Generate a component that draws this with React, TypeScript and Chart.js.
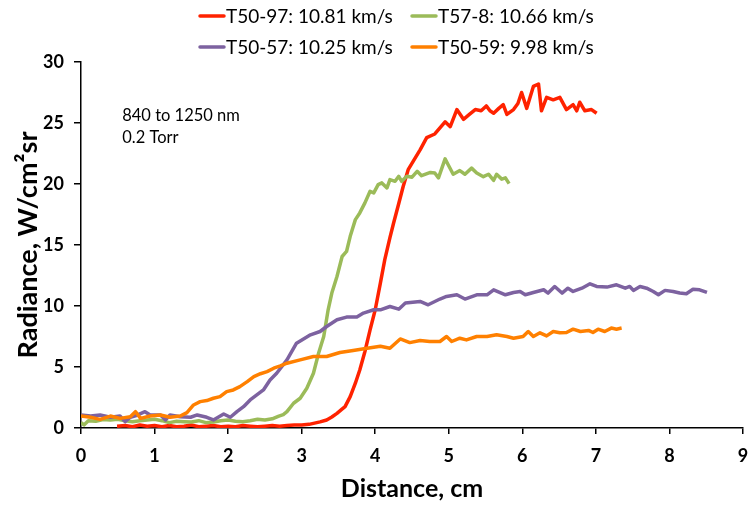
import React, { useEffect, useRef } from "react";
import { Chart, registerables } from "chart.js";

Chart.register(...registerables);

const seriesNames = [
  "T50-97: 10.81 km/s",
  "T57-8: 10.66 km/s",
  "T50-57: 10.25 km/s",
  "T50-59: 9.98 km/s",
];
const seriesColors = ["#FF2200", "#9BBB59", "#7D62A0", "#FF8000"];

const xTickValues = [0, 1, 2, 3, 4, 5, 6, 7, 8, 9];
const yTickValues = [0, 5, 10, 15, 20, 25, 30];
const noteLines = ["840 to 1250 nm", "0.2 Torr"];
const xTitle = "Distance, cm";
const yTitle = "Radiance, W/cm\u00B2sr";

const redX = [0.49, 0.6, 0.7, 0.8, 0.9, 1.0, 1.1, 1.2, 1.3, 1.4, 1.5, 1.6, 1.7, 1.8, 1.9, 2.0, 2.1, 2.2, 2.3, 2.4, 2.5, 2.6, 2.7, 2.8, 2.9, 3.0, 3.1, 3.16, 3.25, 3.34, 3.41, 3.48, 3.54, 3.59, 3.66, 3.73, 3.79, 3.86, 3.93, 4.0, 4.07, 4.13, 4.2, 4.25, 4.32, 4.38, 4.45, 4.53, 4.61, 4.7, 4.81, 4.88, 4.95, 5.02, 5.11, 5.2, 5.28, 5.36, 5.44, 5.51, 5.56, 5.61, 5.68, 5.74, 5.79, 5.88, 5.94, 5.99, 6.06, 6.15, 6.22, 6.26, 6.33, 6.42, 6.51, 6.6, 6.69, 6.74, 6.78, 6.85, 6.94, 7.01];
const redY = [0.15, 0.2, 0.1, 0.25, 0.15, 0.2, 0.1, 0.2, 0.1, 0.15, 0.25, 0.1, 0.15, 0.2, 0.1, 0.15, 0.1, 0.2, 0.15, 0.1, 0.15, 0.2, 0.15, 0.2, 0.25, 0.25, 0.3, 0.38, 0.5, 0.66, 0.9, 1.2, 1.5, 1.75, 2.57, 3.67, 4.76, 6.27, 8.05, 9.69, 11.88, 13.8, 15.6, 16.8, 18.4, 19.8, 21.2, 22.0, 22.8, 23.8, 24.1, 24.6, 25.1, 24.7, 26.1, 25.3, 25.7, 26.1, 26.0, 26.4, 26.0, 25.8, 26.2, 26.5, 25.7, 26.1, 26.6, 27.5, 26.2, 28.0, 28.2, 26.0, 27.1, 26.9, 27.1, 26.1, 26.5, 26.0, 26.7, 26.0, 26.1, 25.8];

const greenX = [0, 0.04, 0.1, 0.2, 0.3, 0.4, 0.5, 0.6, 0.7, 0.8, 0.9, 1.0, 1.1, 1.2, 1.3, 1.4, 1.5, 1.6, 1.7, 1.8, 1.9, 2.0, 2.1, 2.2, 2.3, 2.4, 2.5, 2.6, 2.69, 2.75, 2.8, 2.89, 2.98, 3.07, 3.16, 3.23, 3.3, 3.36, 3.41, 3.48, 3.55, 3.61, 3.66, 3.7, 3.73, 3.79, 3.86, 3.93, 3.98, 4.04, 4.09, 4.16, 4.2, 4.27, 4.32, 4.36, 4.43, 4.5, 4.57, 4.63, 4.75, 4.81, 4.86, 4.95, 4.99, 5.06, 5.15, 5.22, 5.31, 5.38, 5.47, 5.54, 5.61, 5.65, 5.72, 5.77, 5.82];
const greenY = [0.44, 0.25, 0.6, 0.55, 0.7, 0.66, 0.71, 0.6, 0.52, 0.6, 0.66, 0.71, 0.6, 0.44, 0.55, 0.52, 0.5, 0.6, 0.44, 0.5, 0.6, 0.66, 0.55, 0.52, 0.6, 0.71, 0.65, 0.75, 0.98, 1.1, 1.34, 2.03, 2.44, 3.26, 4.49, 6.13, 7.5, 9.69, 11.06, 12.42, 14.06, 14.47, 15.71, 16.5, 17.08, 17.63, 18.45, 19.4, 19.27, 19.95, 20.09, 19.68, 20.36, 20.22, 20.63, 20.22, 20.63, 20.56, 21.04, 20.68, 20.95, 20.9, 20.5, 22.06, 21.6, 20.8, 21.1, 20.8, 21.3, 20.9, 20.6, 20.8, 20.3, 20.8, 20.4, 20.5, 20.03];

const purpleX = [0, 0.13, 0.26, 0.4, 0.53, 0.6, 0.67, 0.74, 0.87, 0.94, 1.08, 1.15, 1.21, 1.35, 1.49, 1.58, 1.71, 1.8, 1.94, 2.03, 2.12, 2.21, 2.3, 2.39, 2.48, 2.57, 2.66, 2.8, 2.93, 3.12, 3.25, 3.34, 3.48, 3.61, 3.75, 3.84, 3.98, 4.07, 4.2, 4.32, 4.41, 4.61, 4.72, 4.88, 4.97, 5.11, 5.22, 5.38, 5.52, 5.61, 5.77, 5.88, 5.97, 6.04, 6.15, 6.29, 6.35, 6.44, 6.54, 6.62, 6.69, 6.81, 6.92, 7.01, 7.15, 7.28, 7.4, 7.46, 7.51, 7.6, 7.69, 7.78, 7.85, 7.94, 8.05, 8.14, 8.23, 8.32, 8.41, 8.51];
const purpleY = [1.07, 0.98, 1.07, 0.88, 0.98, 0.52, 0.88, 1.0, 1.34, 1.07, 1.07, 0.66, 1.07, 0.93, 0.88, 1.07, 0.88, 0.66, 1.15, 0.88, 1.34, 1.75, 2.3, 2.71, 3.12, 3.94, 4.49, 5.58, 6.95, 7.64, 7.91, 8.32, 8.87, 9.09, 9.09, 9.42, 9.69, 9.69, 9.96, 9.74, 10.24, 10.37, 10.1, 10.57, 10.78, 10.92, 10.57, 10.92, 10.92, 11.33, 10.92, 11.11, 11.19, 10.92, 11.11, 11.33, 11.06, 11.6, 11.06, 11.46, 11.19, 11.46, 11.82, 11.6, 11.55, 11.74, 11.46, 11.6, 11.28, 11.6, 11.46, 11.19, 10.92, 11.28, 11.19, 11.06, 11.0, 11.37, 11.33, 11.11];

const orangeX = [0, 0.13, 0.26, 0.4, 0.53, 0.67, 0.74, 0.81, 0.94, 1.08, 1.21, 1.35, 1.44, 1.53, 1.62, 1.71, 1.8, 1.89, 1.98, 2.07, 2.16, 2.26, 2.35, 2.44, 2.53, 2.62, 2.71, 2.8, 2.98, 3.16, 3.34, 3.52, 3.7, 3.89, 4.07, 4.2, 4.34, 4.47, 4.61, 4.74, 4.88, 4.97, 5.04, 5.15, 5.24, 5.38, 5.52, 5.65, 5.79, 5.88, 6.01, 6.08, 6.15, 6.24, 6.33, 6.42, 6.51, 6.6, 6.69, 6.79, 6.9, 6.96, 7.03, 7.12, 7.21, 7.28, 7.35];
const orangeY = [0.98, 0.88, 0.71, 0.98, 0.79, 0.93, 1.34, 0.79, 0.98, 1.07, 0.88, 0.98, 1.26, 1.89, 2.16, 2.25, 2.44, 2.57, 2.98, 3.12, 3.39, 3.8, 4.21, 4.45, 4.62, 4.9, 5.09, 5.31, 5.58, 5.86, 5.86, 6.19, 6.35, 6.54, 6.7, 6.54, 7.3, 7.0, 7.17, 7.09, 7.09, 7.5, 7.09, 7.36, 7.22, 7.5, 7.5, 7.64, 7.5, 7.36, 7.5, 7.91, 7.5, 7.8, 7.55, 7.91, 7.8, 7.83, 8.1, 7.91, 8.0, 7.83, 8.1, 7.91, 8.19, 8.1, 8.19];

const seriesX = [redX, greenX, purpleX, orangeX];
const seriesY = [redY, greenY, purpleY, orangeY];

const FONT = "Lato, 'Open Sans', sans-serif";

const legendAndNotes = {
  id: "legendAndNotes",
  afterDraw(chart: any) {
    const ctx = chart.ctx;
    ctx.save();
    const cols = [200, 412];
    const rows = [16, 47];
    ctx.textBaseline = "middle";
    ctx.textAlign = "left";
    ctx.font = `19px ${FONT}`;
    chart.data.datasets.forEach((ds: any, i: number) => {
      const x = cols[i % 2];
      const y = rows[Math.floor(i / 2)];
      ctx.strokeStyle = ds.borderColor;
      ctx.lineWidth = 3.5;
      ctx.lineCap = "round";
      ctx.beginPath();
      ctx.moveTo(x, y);
      ctx.lineTo(x + 24, y);
      ctx.stroke();
      ctx.fillStyle = "#000";
      ctx.fillText(ds.label, x + 26, y + 1);
    });
    const xs = chart.scales.x;
    const ys = chart.scales.y;
    ctx.font = `16.5px ${FONT}`;
    ctx.fillStyle = "#000";
    const nx = xs.getPixelForValue(0.56);
    ctx.fillText(noteLines[0], nx, ys.getPixelForValue(25.6));
    ctx.fillText(noteLines[1], nx, ys.getPixelForValue(23.8));
    ctx.restore();
  },
};

export default function App() {
  const ref = useRef<HTMLCanvasElement | null>(null);
  useEffect(() => {
    if (!ref.current) return;
    const datasets = seriesNames.map((name, i) => ({
      label: name,
      data: seriesX[i].map((x, j) => ({ x, y: seriesY[i][j] })),
      borderColor: seriesColors[i],
      backgroundColor: seriesColors[i],
      borderWidth: 3.5,
      pointRadius: 0,
      tension: 0,
      fill: false,
      borderJoinStyle: "round" as const,
      order: 4 - i,
    }));
    const chart = new Chart(ref.current, {
      type: "line",
      data: { datasets },
      plugins: [legendAndNotes],
      options: {
        animation: false,
        responsive: true,
        maintainAspectRatio: false,
        layout: { padding: { top: 62, right: 5, left: 0, bottom: 0 } },
        plugins: {
          legend: { display: false },
          tooltip: { enabled: false },
        },
        scales: {
          x: {
            type: "linear",
            min: 0,
            max: 9,
            afterFit: (s: any) => {
              s.height = 78;
              s.paddingRight = 0;
              s.paddingLeft = 0;
            },
            afterBuildTicks: (s: any) => {
              s.ticks = xTickValues.map((v) => ({ value: v }));
            },
            ticks: {
              color: "#000",
              font: { family: FONT, size: 18, weight: "bold" },
              padding: 11,
              maxRotation: 0,
            },
            grid: {
              drawOnChartArea: false,
              color: "#000",
              tickLength: 6,
              lineWidth: 1.5,
            },
            border: { color: "#000", width: 1.5 },
            title: {
              display: true,
              text: xTitle,
              color: "#000",
              font: { family: FONT, size: 25, weight: "bold" },
              padding: { top: 0, bottom: 2 },
            },
          },
          y: {
            type: "linear",
            min: 0,
            max: 30,
            afterFit: (s: any) => {
              s.width = 81;
              s.paddingTop = 0;
              s.paddingBottom = 0;
            },
            afterBuildTicks: (s: any) => {
              s.ticks = yTickValues.map((v) => ({ value: v }));
            },
            ticks: {
              color: "#000",
              font: { family: FONT, size: 18, weight: "bold" },
              padding: 10,
            },
            grid: {
              drawOnChartArea: false,
              color: "#000",
              tickLength: 7,
              lineWidth: 1.5,
            },
            border: { color: "#000", width: 1.5 },
            title: {
              display: true,
              text: yTitle,
              color: "#000",
              font: { family: FONT, size: 27, weight: "bold" },
              padding: { top: 12, bottom: 0 },
            },
          },
        },
      },
    });
    return () => chart.destroy();
  }, []);
  return (
    <div style={{ position: "absolute", left: 0, top: 0, width: 748, height: 506, background: "#fff" }}>
      <canvas ref={ref} />
    </div>
  );
}
